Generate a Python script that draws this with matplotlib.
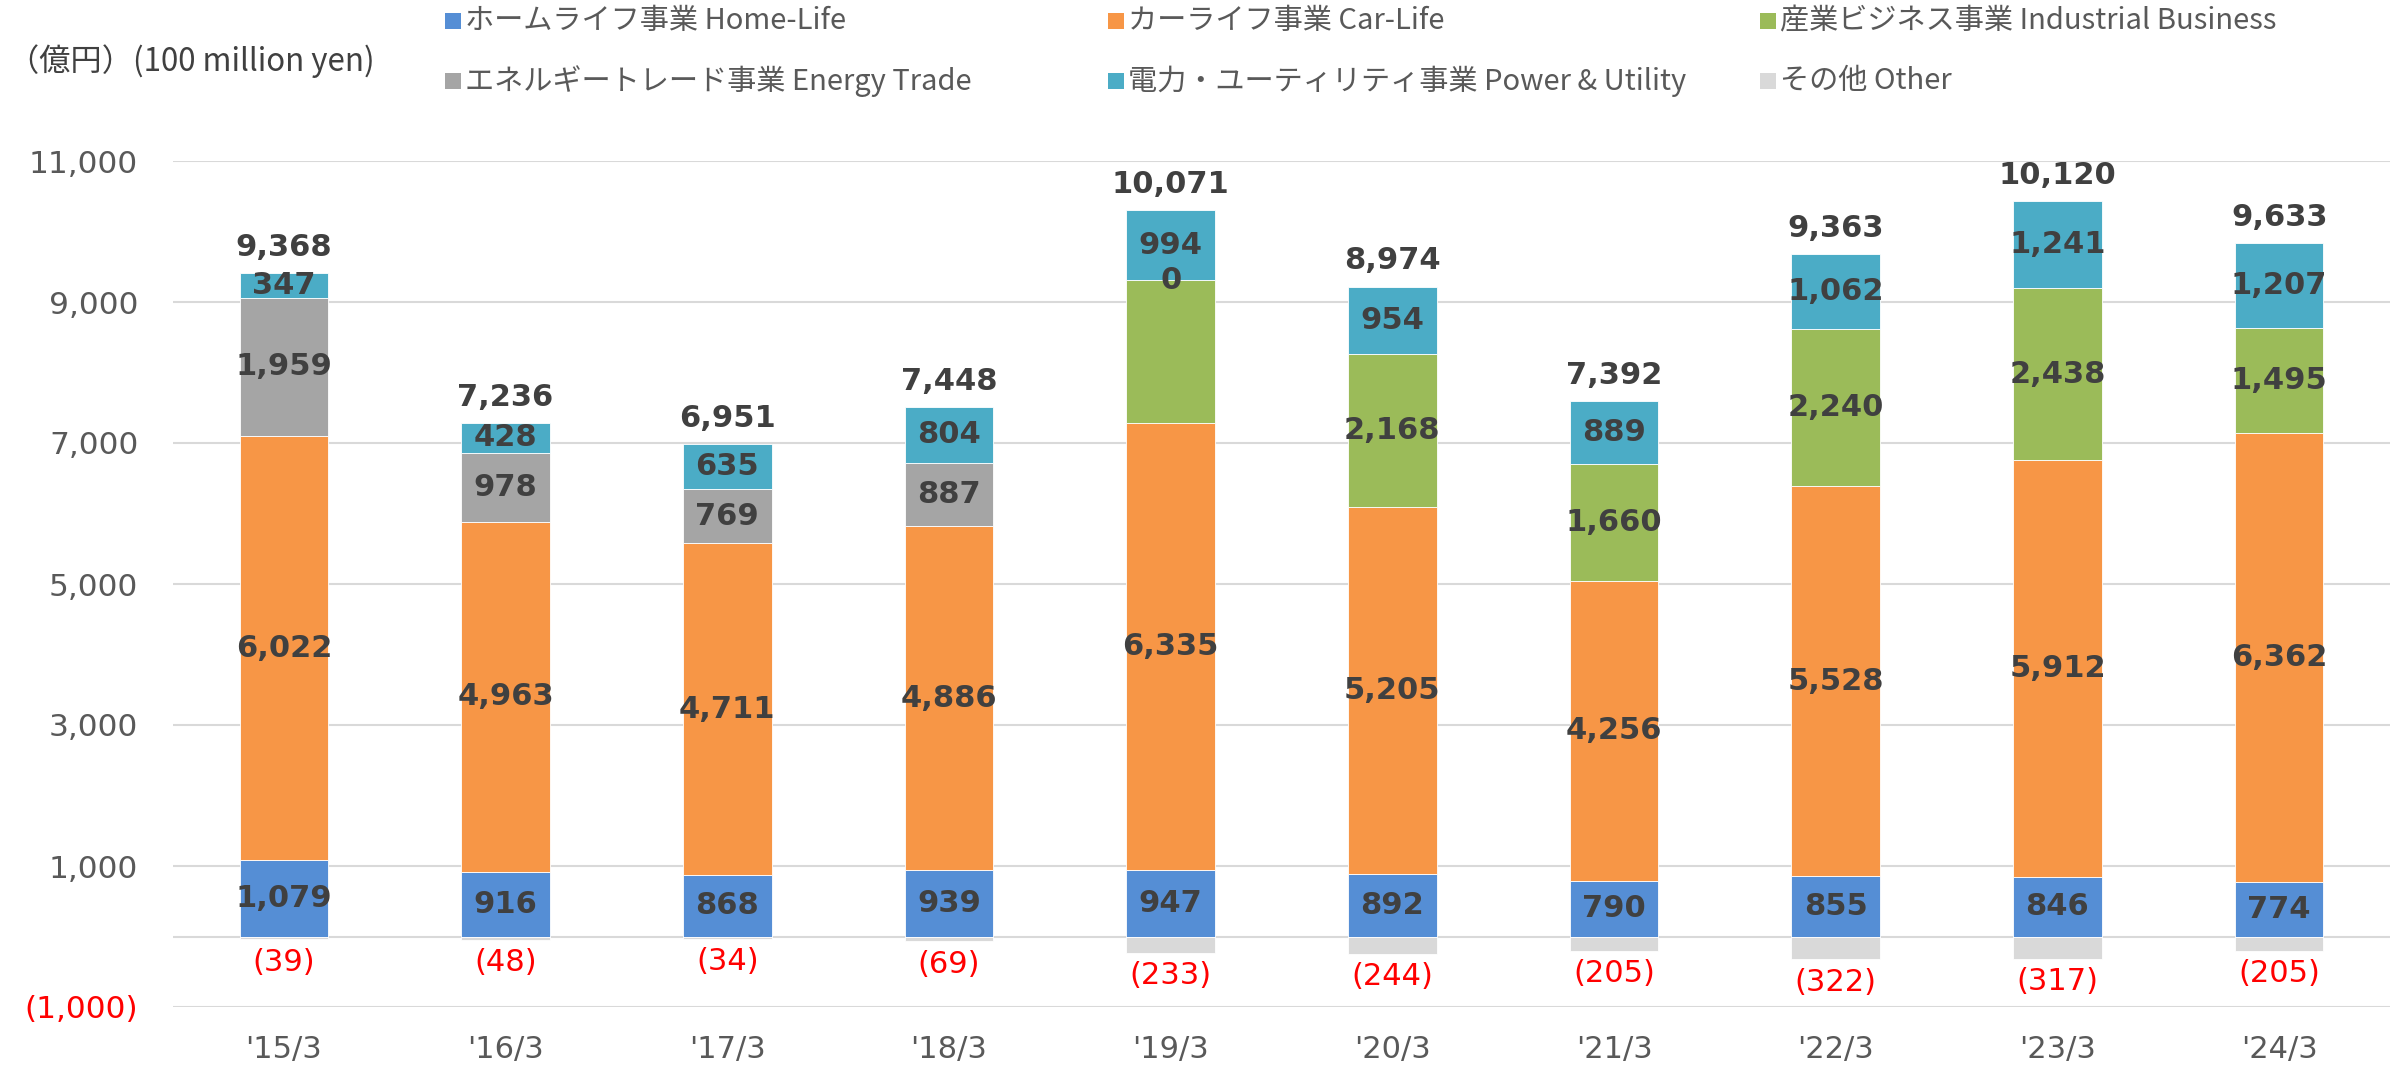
import matplotlib
matplotlib.use("Agg")
import matplotlib.pyplot as plt
from matplotlib.patches import Rectangle
import numpy as np

plt.rcParams['font.family'] = ['DejaVu Sans', 'Noto Sans CJK JP']
JP = ['Noto Sans CJK JP', 'DejaVu Sans']

years = ["'15/3", "'16/3", "'17/3", "'18/3", "'19/3", "'20/3", "'21/3", "'22/3", "'23/3", "'24/3"]

home_life = [1079, 916, 868, 939, 947, 892, 790, 855, 846, 774]
car_life = [6022, 4963, 4711, 4886, 6335, 5205, 4256, 5528, 5912, 6362]
industrial = [np.nan, np.nan, np.nan, np.nan, 2028, 2168, 1660, 2240, 2438, 1495]
energy_trade = [1959, 978, 769, 887, 0, np.nan, np.nan, np.nan, np.nan, np.nan]
power_utility = [347, 428, 635, 804, 994, 954, 889, 1062, 1241, 1207]
other = [-39, -48, -34, -69, -233, -244, -205, -322, -317, -205]
totals = [9368, 7236, 6951, 7448, 10071, 8974, 7392, 9363, 10120, 9633]

# the '19/3 industrial segment has no data label in the original
industrial_unlabeled = [4]

series = [
    ("ホームライフ事業 Home-Life", home_life, "#558ED5", []),
    ("カーライフ事業 Car-Life", car_life, "#F79646", []),
    ("産業ビジネス事業 Industrial Business", industrial, "#9BBB59", industrial_unlabeled),
    ("エネルギートレード事業 Energy Trade", energy_trade, "#A5A5A5", []),
    ("電力・ユーティリティ事業 Power & Utility", power_utility, "#4BACC6", []),
]
other_name = "その他 Other"
other_color = "#D9D9D9"

W, H = 2392, 1071
fig = plt.figure(figsize=(W / 100, H / 100), dpi=100)
ax = fig.add_axes([173 / W, 64 / H, 2217 / W, 846 / H])

x = np.arange(len(years))
bar_w = 0.4
label_color = "#404040"

bottom = np.zeros(len(years))
for name, vals, color, hidden in series:
    vals = np.array(vals, dtype=float)
    heights = np.nan_to_num(vals)
    ax.bar(x, heights, bar_w, bottom=bottom, color=color, edgecolor="white", linewidth=0.6, zorder=2)
    for i, v in enumerate(vals):
        if np.isnan(v) or i in hidden:
            continue
        ax.text(x[i], bottom[i] + v / 2, f"{int(v):,}", ha="center", va="center",
                fontsize=22, fontweight="bold", color=label_color, zorder=3)
    bottom = bottom + heights

ax.bar(x, other, bar_w, color=other_color, edgecolor="white", linewidth=0.6, zorder=2)
for i, v in enumerate(other):
    ax.annotate(f"({-v:,})", (x[i], v), xytext=(0, -6), textcoords="offset points",
                ha="center", va="top", fontsize=22, color="red")

for i, t in enumerate(totals):
    ax.annotate(f"{t:,}", (x[i], bottom[i]), xytext=(0, 8), textcoords="offset points",
                ha="center", va="bottom", fontsize=22, fontweight="bold", color=label_color)

ax.set_xlim(-0.5, len(years) - 0.5)
ax.set_ylim(-1000, 11000)
yticks = list(range(-1000, 11001, 2000))
ax.set_yticks(yticks)
ax.set_yticklabels([f"({-v:,})" if v < 0 else f"{v:,}" for v in yticks])
for lab, v in zip(ax.get_yticklabels(), yticks):
    lab.set_color("red" if v < 0 else "#595959")
ax.set_xticks(x)
ax.set_xticklabels(years, color="#595959")
ax.tick_params(axis="y", length=0, pad=25, labelsize=22.5)
ax.tick_params(axis="x", length=0, pad=20, labelsize=22)

ax.grid(axis="y", color="#D9D9D9", linewidth=1.5)
ax.axhline(0, color="#D9D9D9", linewidth=1.5, zorder=1)
ax.set_axisbelow(True)
for s in ax.spines.values():
    s.set_visible(False)

# unit label
fig.text(8 / W, 1 - 61 / H, "（億円）(100 million yen)", ha="left", va="center",
         fontsize=22.5, family=JP, color="#404040")

# legend, 3 columns x 2 rows
legend_items = [(n, c) for n, _, c, _ in series] + [(other_name, other_color)]
col_x = [445, 1108, 1760]
row_y = [21, 81]
sq = 16
for k, (name, color) in enumerate(legend_items):
    cx = col_x[k % 3]
    cy = row_y[k // 3]
    fig.add_artist(Rectangle((cx / W, 1 - (cy + sq / 2) / H), sq / W, sq / H,
                             transform=fig.transFigure, facecolor=color, edgecolor="none"))
    fig.text((cx + sq + 4) / W, 1 - cy / H, name, ha="left", va="center",
             fontsize=21, family=JP, color="#595959")

fig.savefig("out.png", dpi=100)
